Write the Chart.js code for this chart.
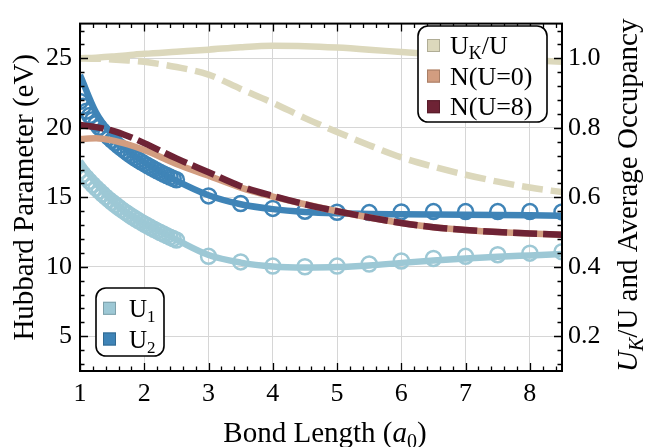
<!DOCTYPE html>
<html>
<head>
<meta charset="utf-8">
<script src="https://cdn.jsdelivr.net/npm/chart.js@4.4.0/dist/chart.umd.min.js"></script>
<style>
  html, body { margin: 0; padding: 0; background: #fff; }
</style>
</head>
<body>
<canvas id="hubbardChart" width="645" height="447"></canvas>
<script>
// Fit curves, sampled on a coarse bond-length grid (a0)
const bondLengths = [1, 1.25, 1.5, 1.75, 2, 2.5, 3, 3.5, 4, 4.5, 5, 5.5, 6, 6.5, 7, 7.5, 8, 8.5];
const ukRatio = [1.0, 1.002, 1.005, 1.009, 1.013, 1.019, 1.025, 1.032, 1.036, 1.035, 1.031, 1.025, 1.018, 1.012, 1.007, 1.001, 0.995, 0.99];
const ukRatioDashed = [1.0, 0.999, 0.997, 0.994, 0.99, 0.975, 0.953, 0.912, 0.872, 0.828, 0.788, 0.75, 0.715, 0.688, 0.665, 0.645, 0.628, 0.615];
const occupancyU0 = [0.768, 0.770, 0.764, 0.752, 0.736, 0.696, 0.662, 0.628, 0.602, 0.58, 0.56, 0.542, 0.526, 0.514, 0.506, 0.5, 0.496, 0.492];
const occupancyU8 = [0.808, 0.802, 0.792, 0.776, 0.756, 0.712, 0.672, 0.632, 0.604, 0.58, 0.56, 0.542, 0.526, 0.514, 0.506, 0.5, 0.496, 0.492];
const u1Fit = [17.6, 16.0, 14.8, 13.85, 13.1, 11.95, 10.85, 10.3, 10.02, 9.95, 9.98, 10.1, 10.28, 10.45, 10.6, 10.72, 10.82, 10.92];
const u2Fit = [23.8, 21.1, 19.5, 18.35, 17.5, 16.2, 15.15, 14.5, 14.15, 13.95, 13.85, 13.8, 13.78, 13.76, 13.74, 13.72, 13.7, 13.68];

// Computed points: dense near equilibrium, then every 0.5 a0
const sampleLengths = [
  1, 1.05, 1.1, 1.15, 1.2, 1.25, 1.3, 1.35, 1.4, 1.45, 1.5, 1.55, 1.6, 1.65, 1.7, 1.75,
  1.8, 1.85, 1.9, 1.95, 2, 2.05, 2.1, 2.15, 2.2, 2.25, 2.3, 2.35, 2.4, 2.45, 2.5,
  3, 3.5, 4, 4.5, 5, 5.5, 6, 6.5, 7, 7.5, 8, 8.5
];
const u1Samples = [
  16.9, 16.65, 16.4, 16.15, 15.9, 15.67, 15.45, 15.24, 15.03, 14.83, 14.64, 14.46, 14.28, 14.11, 13.95, 13.79,
  13.64, 13.49, 13.35, 13.21, 13.08, 12.95, 12.82, 12.7, 12.58, 12.46, 12.35, 12.24, 12.13, 12.03, 11.93,
  10.75, 10.35, 10.05, 10.0, 10.05, 10.2, 10.42, 10.6, 10.75, 10.87, 10.98, 11.08
];
const u2Samples = [
  21.9, 21.55, 21.2, 20.88, 20.58, 20.3, 20.03, 19.78, 19.54, 19.31, 19.1, 18.9, 18.7, 18.52, 18.34, 18.17,
  18.01, 17.85, 17.7, 17.56, 17.42, 17.29, 17.16, 17.03, 16.91, 16.79, 16.68, 16.57, 16.46, 16.36, 16.26,
  15.1, 14.55, 14.2, 14.0, 13.92, 13.9, 13.95, 13.97, 13.97, 13.97, 13.97, 13.95
];

const xTickValues = [1, 2, 3, 4, 5, 6, 7, 8];
const leftTickValues = [5, 10, 15, 20, 25];
const rightTickValues = [0.2, 0.4, 0.6, 0.8, 1.0];

const COLORS = {
  beige: '#dcd8bc',
  salmon: '#d29d80',
  maroon: '#6e2335',
  lightBlue: '#9dc8d5',
  blue: '#3f84b7'
};

const SERIF = '"Liberation Serif", serif';

// legend rows: text runs + swatch colours
const topLegendLabels = [
  [{ text: 'U' }, { text: 'K', sub: true }, { text: '/U' }],
  [{ text: 'N(U=0)' }],
  [{ text: 'N(U=8)' }]
];
const topLegendColors = [COLORS.beige, COLORS.salmon, COLORS.maroon];
const bottomLegendLabels = [
  [{ text: 'U' }, { text: '1', sub: true }],
  [{ text: 'U' }, { text: '2', sub: true }]
];
const bottomLegendColors = [COLORS.lightBlue, COLORS.blue];

Chart.defaults.font.family = SERIF;
Chart.defaults.font.size = 26;
Chart.defaults.color = '#000';

function toPoints(xs, ys) {
  return xs.map((x, i) => ({ x: x, y: ys[i] }));
}

function fontFor(run, size) {
  const fs = run.sub ? Math.round(size * 0.68) : size;
  return (run.italic ? 'italic ' : '') + fs + 'px ' + SERIF;
}

function drawRuns(ctx, runs, x, y, size) {
  let cx = x;
  runs.forEach(r => {
    ctx.font = fontFor(r, size);
    ctx.fillText(r.text, cx, y + (r.sub ? size * 0.2 : 0));
    cx += ctx.measureText(r.text).width;
  });
  return cx - x;
}

function runsWidth(ctx, runs, size) {
  let w = 0;
  runs.forEach(r => {
    ctx.font = fontFor(r, size);
    w += ctx.measureText(r.text).width;
  });
  return w;
}

function shade(hex, f) {
  const n = parseInt(hex.slice(1), 16);
  const r = Math.round(((n >> 16) & 255) * f);
  const g = Math.round(((n >> 8) & 255) * f);
  const b = Math.round((n & 255) * f);
  return 'rgb(' + r + ',' + g + ',' + b + ')';
}

function drawLegendBox(ctx, box, labels, colors) {
  ctx.save();
  ctx.beginPath();
  ctx.roundRect(box.x, box.y, box.w, box.h, 10);
  ctx.fillStyle = '#fff';
  ctx.fill();
  ctx.lineWidth = 1.6;
  ctx.strokeStyle = '#000';
  ctx.stroke();
  labels.forEach((runs, i) => {
    const cy = box.firstRow + i * box.rowGap;
    ctx.fillStyle = colors[i];
    ctx.fillRect(box.swatchX, cy - 6.5, 13, 13);
    ctx.lineWidth = 1;
    ctx.strokeStyle = shade(colors[i], 0.8);
    ctx.strokeRect(box.swatchX + 0.5, cy - 6, 12, 12);
    ctx.fillStyle = '#000';
    ctx.textBaseline = 'alphabetic';
    drawRuns(ctx, runs, box.textX, cy + 8.5, box.fontSize);
  });
  ctx.restore();
}

// frame, inward major/minor ticks, axis titles and both legends
const decorations = {
  id: 'decorations',
  afterDatasetsDraw(chart) {
    const { ctx, chartArea: a, scales } = chart;
    ctx.save();
    ctx.strokeStyle = '#000';
    ctx.lineWidth = 1.3;
    ctx.beginPath();
    for (let k = 0; k <= 37; k++) {
      const v = 1 + k * 0.2;
      const px = Math.round(scales.x.getPixelForValue(v)) + 0.5;
      const len = k % 5 === 0 ? 8 : 4.5;
      ctx.moveTo(px, a.bottom); ctx.lineTo(px, a.bottom - len);
      ctx.moveTo(px, a.top); ctx.lineTo(px, a.top + len);
    }
    for (let v = 3; v <= 27; v++) {
      const py = Math.round(scales.y.getPixelForValue(v)) + 0.5;
      const len = v % 5 === 0 ? 8 : 4.5;
      ctx.moveTo(a.left, py); ctx.lineTo(a.left + len, py);
    }
    for (let k = 3; k <= 27; k++) {
      const v = k * 0.04;
      const py = Math.round(scales.y1.getPixelForValue(v)) + 0.5;
      const len = k % 5 === 0 ? 8 : 4.5;
      ctx.moveTo(a.right, py); ctx.lineTo(a.right - len, py);
    }
    ctx.stroke();

    ctx.lineWidth = 2;
    ctx.strokeRect(a.left, a.top, a.right - a.left, a.bottom - a.top);
    ctx.restore();

    drawLegendBox(ctx, {
      x: 418, y: 26, w: 129, h: 96, firstRow: 45.5, rowGap: 30.6,
      swatchX: 427, textX: 450, fontSize: 26
    }, topLegendLabels, topLegendColors);
    drawLegendBox(ctx, {
      x: 96, y: 288, w: 68, h: 68, firstRow: 308.3, rowGap: 30.7,
      swatchX: 103, textX: 129, fontSize: 25
    }, bottomLegendLabels, bottomLegendColors);
  },
  afterDraw(chart) {
    const { ctx, chartArea: a } = chart;
    const size = 29;
    ctx.save();
    ctx.fillStyle = '#000';
    ctx.textBaseline = 'alphabetic';

    const bottomTitle = [{ text: 'Bond Length (' }, { text: 'a', italic: true }, { text: '0', sub: true }, { text: ')' }];
    let w = runsWidth(ctx, bottomTitle, size);
    drawRuns(ctx, bottomTitle, (a.left + a.right) / 2 + 4 - w / 2, 442, size);

    const leftTitle = [{ text: 'Hubbard Parameter (eV)' }];
    ctx.save();
    ctx.translate(33, (a.top + a.bottom) / 2);
    ctx.rotate(-Math.PI / 2);
    w = runsWidth(ctx, leftTitle, size);
    drawRuns(ctx, leftTitle, -w / 2, 0, size);
    ctx.restore();

    const rightTitle = [{ text: 'U', italic: true }, { text: 'K', italic: true, sub: true }, { text: '/U and Average Occupancy' }];
    ctx.save();
    ctx.translate(637, (a.top + a.bottom) / 2 - 2);
    ctx.rotate(-Math.PI / 2);
    w = runsWidth(ctx, rightTitle, size);
    drawRuns(ctx, rightTitle, -w / 2, 0, size);
    ctx.restore();

    ctx.restore();
  }
};

function lineSet(data, color, axis, order, dash) {
  return {
    data: data,
    yAxisID: axis,
    borderColor: color,
    borderWidth: 6.5,
    borderDash: dash || [],
    borderCapStyle: 'butt',
    pointRadius: 0,
    fill: false,
    cubicInterpolationMode: 'monotone',
    order: order
  };
}

function markerSet(data, color, order) {
  return {
    data: data,
    yAxisID: 'y',
    showLine: false,
    pointStyle: 'circle',
    pointRadius: 7.5,
    pointBorderWidth: 2.5,
    pointBorderColor: color,
    pointBackgroundColor: 'rgba(0,0,0,0)',
    order: order
  };
}

const tickFont = { family: SERIF, size: 26 };

new Chart(document.getElementById('hubbardChart').getContext('2d'), {
  type: 'line',
  data: {
    datasets: [
      lineSet(toPoints(bondLengths, occupancyU8), COLORS.maroon, 'y1', 0, [24, 6]),
      lineSet(toPoints(bondLengths, occupancyU0), COLORS.salmon, 'y1', 1),
      lineSet(toPoints(bondLengths, ukRatioDashed), COLORS.beige, 'y1', 2, [21, 8]),
      lineSet(toPoints(bondLengths, ukRatio), COLORS.beige, 'y1', 3),
      markerSet(toPoints(sampleLengths, u2Samples), COLORS.blue, 4),
      lineSet(toPoints(bondLengths, u2Fit), COLORS.blue, 'y', 5),
      markerSet(toPoints(sampleLengths, u1Samples), COLORS.lightBlue, 6),
      lineSet(toPoints(bondLengths, u1Fit), COLORS.lightBlue, 'y', 7)
    ]
  },
  options: {
    responsive: false,
    animation: false,
    devicePixelRatio: 1,
    layout: { padding: { top: 8, left: 0, right: 0, bottom: 0 } },
    plugins: {
      legend: { display: false },
      tooltip: { enabled: false }
    },
    scales: {
      x: {
        type: 'linear',
        min: 1,
        max: 8.5,
        afterBuildTicks: s => { s.ticks = xTickValues.map(v => ({ value: v })); },
        afterFit: s => { s.height = 76; },
        grid: { color: '#d6d6d6', lineWidth: 1, drawTicks: false },
        border: { display: false },
        ticks: { font: tickFont, color: '#000', padding: 8, maxRotation: 0, autoSkip: false }
      },
      y: {
        position: 'left',
        min: 2.5,
        max: 27.5,
        afterBuildTicks: s => { s.ticks = leftTickValues.map(v => ({ value: v })); },
        afterFit: s => { s.width = 80; },
        grid: { color: '#d6d6d6', lineWidth: 1, drawTicks: false },
        border: { display: false },
        ticks: { font: tickFont, color: '#000', padding: 8 }
      },
      y1: {
        position: 'right',
        min: 0.1,
        max: 1.1,
        afterBuildTicks: s => { s.ticks = rightTickValues.map(v => ({ value: v })); },
        afterFit: s => { s.width = 83; },
        grid: { display: false, drawTicks: false },
        border: { display: false },
        ticks: { font: tickFont, color: '#000', padding: 6, callback: v => v.toFixed(1) }
      }
    }
  },
  plugins: [decorations]
});
</script>
</body>
</html>
